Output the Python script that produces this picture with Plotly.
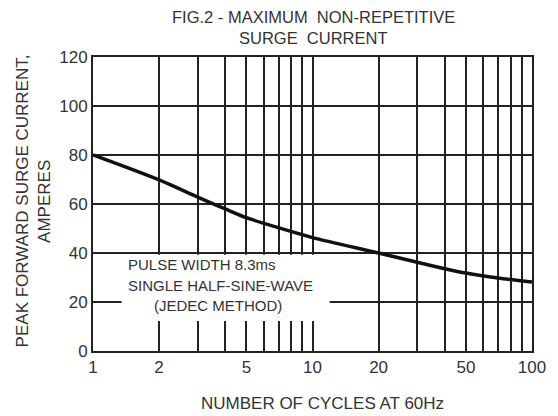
import plotly.graph_objects as go

# Data
cycles = [1, 2, 3, 4, 5, 7, 10, 20, 30, 40, 50, 70, 100]
surge_current = [80, 69.8, 62.8, 58, 54.4, 50.3, 46.3, 40, 36.2, 33.6, 31.8, 29.8, 28.2]

x_tickvals = [1, 2, 3, 4, 5, 6, 7, 8, 9, 10, 20, 30, 40, 50, 60, 70, 80, 90, 100]
x_labeled = {1: "1", 2: "2", 5: "5", 10: "10", 20: "20", 50: "50", 100: "100"}
x_ticktext = [x_labeled.get(v, "") for v in x_tickvals]
y_tickvals = [0, 20, 40, 60, 80, 100, 120]

title_lines = ["FIG.2 - MAXIMUM  NON-REPETITIVE", "SURGE  CURRENT"]
y_title_lines = ["PEAK FORWARD SURGE CURRENT,", "AMPERES"]
x_title = "NUMBER OF CYCLES AT 60Hz"
note_lines = ["PULSE WIDTH 8.3ms", "SINGLE HALF-SINE-WAVE", "(JEDEC METHOD)"]

FONT = "Liberation Sans, Arial, sans-serif"
TXT = "#333333"
GRID = "#222222"

fig = go.Figure()
fig.add_trace(go.Scatter(
    x=cycles, y=surge_current, mode="lines",
    line=dict(color="#111111", width=3.5, shape="spline", smoothing=0.8),
    hoverinfo="skip", showlegend=False,
))

# page body has an 8px margin, so the figure is sized/offset to compensate
fig.update_layout(
    width=550, height=408,
    margin=dict(l=85, r=18, t=49, b=65),
    paper_bgcolor="white", plot_bgcolor="white",
    font=dict(family=FONT, color=TXT, size=17),
    showlegend=False,
    xaxis=dict(
        type="log", range=[0, 2],
        tickvals=x_tickvals, ticktext=x_ticktext,
        showgrid=True, gridcolor=GRID, gridwidth=2,
        showline=True, linecolor=GRID, linewidth=2, mirror=True,
        ticks="", tickfont=dict(size=17, color=TXT),
        zeroline=False,
    ),
    yaxis=dict(
        range=[0, 120], tickvals=y_tickvals,
        showgrid=True, gridcolor=GRID, gridwidth=2,
        showline=True, linecolor=GRID, linewidth=2, mirror=True,
        ticks="", tickfont=dict(size=17, color=TXT),
        zeroline=False,
    ),
)

# White note box covering part of the grid
fig.add_shape(type="rect", xref="paper", yref="paper",
              x0=0.065, x1=0.539, y0=0.102, y1=0.327,
              fillcolor="white", line=dict(width=0), layer="above")

ann = []
# Title
ann.append(dict(text=title_lines[0], x=0.503, y=1.137, xref="paper", yref="paper",
                showarrow=False, xanchor="center", yanchor="middle", font=dict(size=16.5)))
ann.append(dict(text=title_lines[1], x=0.503, y=1.066, xref="paper", yref="paper",
                showarrow=False, xanchor="center", yanchor="middle", font=dict(size=16.5)))
# Y title
ann.append(dict(text=y_title_lines[0], x=-0.161, y=0.51, xref="paper", yref="paper",
                showarrow=False, textangle=-90, xanchor="center", yanchor="middle", font=dict(size=17)))
ann.append(dict(text=y_title_lines[1], x=-0.112, y=0.51, xref="paper", yref="paper",
                showarrow=False, textangle=-90, xanchor="center", yanchor="middle", font=dict(size=17)))
# X title
ann.append(dict(text=x_title, x=0.522, y=-0.177, xref="paper", yref="paper",
                showarrow=False, xanchor="center", yanchor="middle", font=dict(size=17)))
# Note text
note_pos = [(0.076, 0.293), (0.076, 0.224), (0.134, 0.156)]
for t, (px, py) in zip(note_lines, note_pos):
    ann.append(dict(text=t, x=px, y=py, xref="paper", yref="paper",
                    showarrow=False, xanchor="left", yanchor="middle", font=dict(size=15)))
fig.update_layout(annotations=ann)

fig.write_html("out.html")
